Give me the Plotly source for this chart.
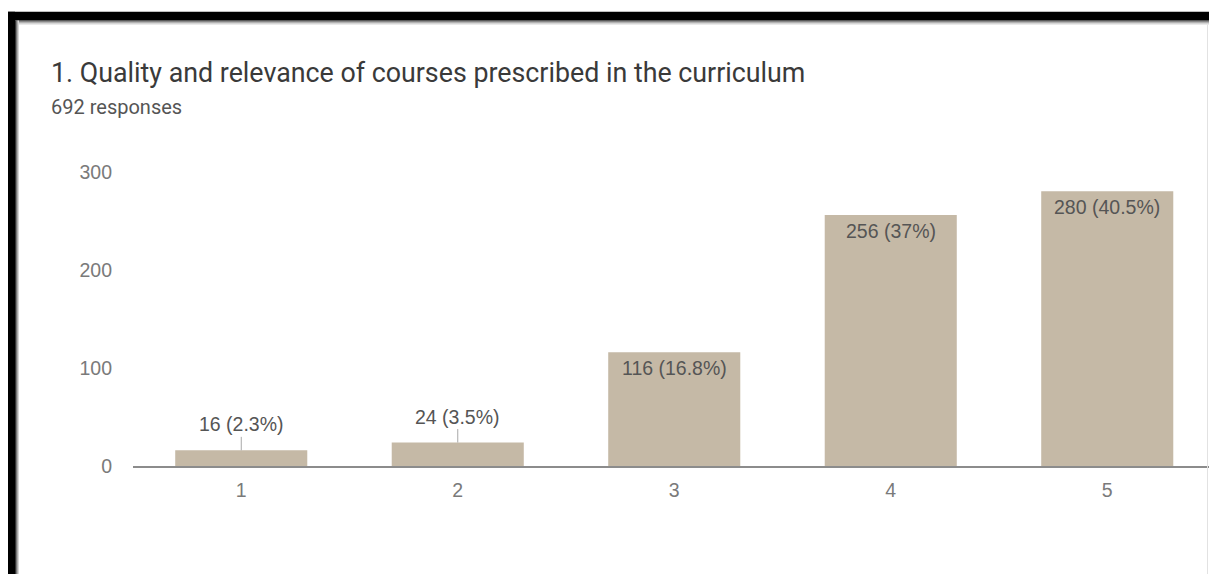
import plotly.graph_objects as go

# ---- data ----
categories = ["1", "2", "3", "4", "5"]
counts = [16, 24, 116, 256, 280]
percent_labels = ["2.3%", "3.5%", "16.8%", "37%", "40.5%"]
y_tick_vals = [0, 100, 200, 300]
title_text = "1. Quality and relevance of courses prescribed in the curriculum"
subtitle_text = "692 responses"

W, H = 1209, 585
BAR_COLOR = "#c5b9a6"
LABEL_COLOR = "#555555"
TICK_COLOR = "#7a7a7a"
FONT = "Liberation Sans, Arial, sans-serif"


def fx(px):
    return px / W


def fy(py):
    return 1 - py / H


fig = go.Figure()
fig.add_trace(go.Bar(
    x=categories,
    y=counts,
    marker=dict(color=BAR_COLOR, line=dict(width=0)),
    hoverinfo="skip",
))

annotations = []
# value labels (x given as category index)
for i, (v, p) in enumerate(zip(counts, percent_labels)):
    txt = f"{v} ({p})"
    if v < 60:
        annotations.append(dict(
            x=i, y=v, xref="x", yref="y", text=txt,
            showarrow=True, arrowhead=0, arrowwidth=1, arrowcolor="#a8a8a8",
            ax=0, ay=-26, standoff=0,
            font=dict(family=FONT, size=19.5, color=LABEL_COLOR),
        ))
    else:
        annotations.append(dict(
            x=i, y=v, xref="x", yref="y", text=txt,
            showarrow=False, yanchor="middle", yshift=-16,
            font=dict(family=FONT, size=19.5, color=LABEL_COLOR),
        ))

# title and subtitle
annotations.append(dict(
    x=fx(49), y=fy(74), xref="paper", yref="paper", xanchor="left", yanchor="middle",
    text=title_text, showarrow=False,
    font=dict(family="Roboto, Open Sans, sans-serif", size=26.8, color="#3a3a3a"),
))
annotations.append(dict(
    x=fx(49), y=fy(109), xref="paper", yref="paper", xanchor="left", yanchor="middle",
    text=subtitle_text, showarrow=False,
    font=dict(family="Roboto, Open Sans, sans-serif", size=20, color="#555555"),
))

# decorative frame (black border with soft edge)
shapes = []
shapes.append(dict(type="rect", xref="paper", yref="paper", x0=fx(8), x1=fx(1209), y0=fy(12), y1=fy(21),
                   fillcolor="#000000", line=dict(width=0), layer="above"))
for i, c in enumerate(["#333333", "#777777", "#aaaaaa", "#d6d6d6"]):
    shapes.append(dict(type="rect", xref="paper", yref="paper", x0=fx(15), x1=fx(1209),
                       y0=fy(21 + i), y1=fy(22 + i), fillcolor=c, line=dict(width=0), layer="above"))
shapes.append(dict(type="rect", xref="paper", yref="paper", x0=fx(8), x1=fx(15), y0=fy(12), y1=fy(585),
                   fillcolor="#000000", line=dict(width=0), layer="above"))
for i, c in enumerate(["#333333", "#777777", "#aaaaaa", "#d6d6d6"]):
    shapes.append(dict(type="rect", xref="paper", yref="paper", x0=fx(15 + i), x1=fx(16 + i),
                       y0=fy(21), y1=fy(585), fillcolor=c, line=dict(width=0), layer="above"))
shapes.append(dict(type="line", xref="paper", yref="paper", x0=fx(1207.5), x1=fx(1207.5),
                   y0=fy(25), y1=fy(585), line=dict(color="#e2e2e2", width=1), layer="above"))

plot_left, plot_right = 133, 1209
plot_top, plot_bottom = 150, 475
px_per_unit = (475 - 175) / 300
y_max = (plot_bottom - plot_top) / px_per_unit
cat_spacing = 216.5
x_span = (plot_right - plot_left) / cat_spacing

fig.update_layout(
    width=W, height=H,
    margin=dict(l=0, r=0, t=0, b=0),
    paper_bgcolor="white", plot_bgcolor="white",
    showlegend=False,
    bargap=0.39,
    font=dict(family=FONT, color=TICK_COLOR, size=19),
    xaxis=dict(
        domain=[fx(plot_left), fx(plot_right)],
        type="category",
        range=[-0.5, -0.5 + x_span],
        showgrid=False, zeroline=False,
        showline=True, linecolor="#8c8c8c", linewidth=2,
        ticks="", ticklabelstandoff=6,
        tickfont=dict(family=FONT, size=19.5, color=TICK_COLOR),
        fixedrange=True,
    ),
    yaxis=dict(
        domain=[fy(plot_bottom), fy(plot_top)],
        range=[0, y_max],
        tickvals=y_tick_vals,
        showgrid=False, zeroline=False, showline=False,
        ticks="", ticklabelstandoff=20,
        tickfont=dict(family=FONT, size=19.5, color=TICK_COLOR),
        fixedrange=True,
    ),
    annotations=annotations,
    shapes=shapes,
)

fig.write_html(
    "out.html",
    config={"displayModeBar": False},
    post_script="document.body.style.margin='0';document.body.style.overflow='hidden';",
)
